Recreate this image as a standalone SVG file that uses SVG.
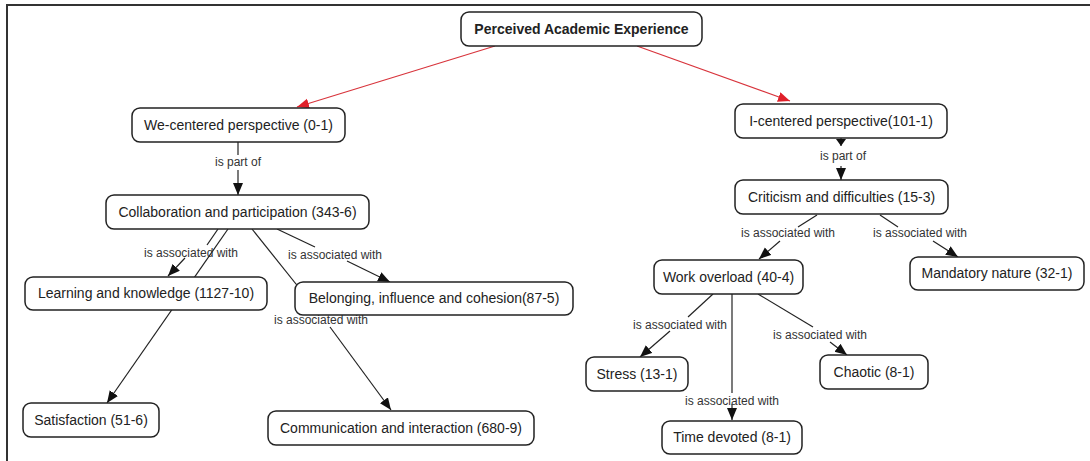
<svg xmlns="http://www.w3.org/2000/svg" width="1090" height="461" viewBox="0 0 1090 461">
<style>
.n rect{fill:#fff;stroke:#222;stroke-width:1.5}
.n text{font-family:"Liberation Sans",Arial,sans-serif;font-size:14px;fill:#222;text-anchor:middle}
.lab{font-family:"Liberation Sans",Arial,sans-serif;font-size:12px;fill:#333;text-anchor:middle}
.c{stroke:#222;stroke-width:1.2;fill:none}
.r{stroke:#d8343c;stroke-width:1.2;fill:none}
</style>
<defs>
<marker id="ab" markerUnits="userSpaceOnUse" markerWidth="13" markerHeight="11" refX="12" refY="5" orient="auto"><path d="M0,0 L12,5 L0,10 z" fill="#111"/></marker>
<marker id="ar" markerUnits="userSpaceOnUse" markerWidth="13" markerHeight="11" refX="12" refY="5" orient="auto"><path d="M0,0 L12,5 L0,10 z" fill="#e0202a"/></marker>
</defs>
<rect width="1090" height="461" fill="#fff"/>
<line x1="6" y1="5" x2="1090" y2="5" stroke="#333" stroke-width="2"/>
<line x1="7" y1="5" x2="7" y2="461" stroke="#333" stroke-width="2"/>
<g id="connectors">
<line class="r" x1="495" y1="46" x2="297" y2="107" marker-end="url(#ar)"/>
<line class="r" x1="637" y1="46" x2="790" y2="101" marker-end="url(#ar)"/>
<line class="c" x1="238" y1="142" x2="238" y2="155"/>
<line class="c" x1="238" y1="170" x2="238" y2="195" marker-end="url(#ab)"/>
<text class="lab" x="238" y="166">is part of</text>
<line class="c" x1="218" y1="229" x2="207" y2="245"/>
<line class="c" x1="185" y1="258" x2="168" y2="276" marker-end="url(#ab)"/>
<line class="c" x1="228" y1="229" x2="107" y2="403" marker-end="url(#ab)"/>
<text class="lab" x="191" y="257">is associated with</text>
<line class="c" x1="277" y1="229" x2="315" y2="247"/>
<line class="c" x1="347" y1="261" x2="390" y2="282" marker-end="url(#ab)"/>
<text class="lab" x="335" y="259">is associated with</text>
<line class="c" x1="252" y1="229" x2="300" y2="289"/>
<line class="c" x1="330" y1="327" x2="391" y2="410" marker-end="url(#ab)"/>
<text class="lab" x="321" y="324">is associated with</text>
<line class="c" x1="841" y1="138" x2="841" y2="146"/>
<path d="M836,139 L846,139 L841,146 z" fill="#111"/>
<line class="c" x1="841" y1="166" x2="841" y2="180" marker-end="url(#ab)"/>
<text class="lab" x="843" y="160">is part of</text>
<line class="c" x1="817" y1="215" x2="798" y2="227"/>
<line class="c" x1="780" y1="241" x2="759" y2="259" marker-end="url(#ab)"/>
<text class="lab" x="788" y="237">is associated with</text>
<line class="c" x1="880" y1="215" x2="898" y2="227"/>
<line class="c" x1="933" y1="241" x2="958" y2="257" marker-end="url(#ab)"/>
<text class="lab" x="920" y="237">is associated with</text>
<line class="c" x1="713" y1="294" x2="688" y2="317"/>
<line class="c" x1="670" y1="331" x2="640" y2="357" marker-end="url(#ab)"/>
<text class="lab" x="680" y="329">is associated with</text>
<line class="c" x1="732" y1="294" x2="732" y2="393"/>
<line class="c" x1="732" y1="404" x2="732" y2="420" marker-end="url(#ab)"/>
<text class="lab" x="732" y="405">is associated with</text>
<line class="c" x1="758" y1="294" x2="813" y2="327"/>
<line class="c" x1="830" y1="342" x2="847" y2="355" marker-end="url(#ab)"/>
<text class="lab" x="820" y="339">is associated with</text>
</g>
<g id="n-top" class="n"><rect x="461" y="12" width="241" height="34" rx="8"/><text x="581.5" y="34" font-weight="bold">Perceived Academic Experience</text></g>
<g id="n-we" class="n"><rect x="132" y="108" width="213" height="34" rx="8"/><text x="238.5" y="130">We-centered perspective (0-1)</text></g>
<g id="n-collab" class="n"><rect x="106" y="195" width="263" height="34" rx="8"/><text x="237.5" y="217">Collaboration and participation (343-6)</text></g>
<g id="n-learn" class="n"><rect x="25" y="277" width="242" height="33" rx="8"/><text x="146" y="298">Learning and knowledge (1127-10)</text></g>
<g id="n-belong" class="n"><rect x="295" y="282" width="278" height="33" rx="8"/><text x="434" y="303">Belonging, influence and cohesion(87-5)</text></g>
<g id="n-satis" class="n"><rect x="23" y="403" width="136" height="34" rx="8"/><text x="91" y="425">Satisfaction (51-6)</text></g>
<g id="n-comm" class="n"><rect x="268" y="411" width="266" height="34" rx="8"/><text x="401" y="433">Communication and interaction (680-9)</text></g>
<g id="n-i" class="n"><rect x="735" y="104" width="212" height="34" rx="8"/><text x="841" y="126">I-centered perspective(101-1)</text></g>
<g id="n-crit" class="n"><rect x="735" y="180" width="213" height="34" rx="8"/><text x="841.5" y="202">Criticism and difficulties (15-3)</text></g>
<g id="n-work" class="n"><rect x="654" y="260" width="149" height="34" rx="8"/><text x="728.5" y="282">Work overload (40-4)</text></g>
<g id="n-mand" class="n"><rect x="910" y="257" width="174" height="33" rx="8"/><text x="997" y="278">Mandatory nature (32-1)</text></g>
<g id="n-stress" class="n"><rect x="586" y="357" width="102" height="34" rx="8"/><text x="637" y="379">Stress (13-1)</text></g>
<g id="n-chaotic" class="n"><rect x="820" y="355" width="108" height="34" rx="8"/><text x="874" y="377">Chaotic (8-1)</text></g>
<g id="n-time" class="n"><rect x="662" y="421" width="140" height="33" rx="8"/><text x="732" y="442">Time devoted (8-1)</text></g>
</svg>
